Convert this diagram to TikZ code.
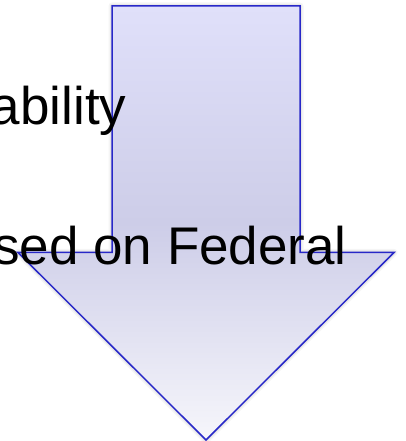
\documentclass[tikz,border=0pt]{standalone}
\usepackage{fontspec}
\setmainfont{Liberation Sans}
\definecolor{arrowline}{RGB}{40,40,200}
\definecolor{gtop}{RGB}{224,224,250}
\definecolor{gmid}{RGB}{205,205,232}
\definecolor{gbot}{RGB}{246,246,251}
\begin{document}
\begin{tikzpicture}[x=1pt,y=1pt,
  bigarrow/.style={draw=arrowline, line width=1.5pt, line join=miter,
    top color=gtop, bottom color=gbot, middle color=gmid},
  glow/.style={draw=black, line join=round},
  label/.style={font=\fontsize{53}{62}\selectfont, inner sep=0pt, anchor=base east, text=black}]
\useasboundingbox (0,0) rectangle (405,441);
\clip (0,0) rectangle (405,441);
\coordinate (a1) at (112,435);
\coordinate (a2) at (300,435);
\coordinate (a3) at (300,188.5);
\coordinate (a4) at (394,188.5);
\coordinate (tip) at (206,1);
\coordinate (a6) at (18,188.5);
\coordinate (a7) at (112,188.5);
\draw[glow, line width=7pt, opacity=0.04] (a1) -- (a2) -- (a3) -- (a4) -- (tip) -- (a6) -- (a7) -- cycle;
\draw[glow, line width=4pt, opacity=0.06] (a1) -- (a2) -- (a3) -- (a4) -- (tip) -- (a6) -- (a7) -- cycle;
\path[bigarrow] (a1) -- (a2) -- (a3) -- (a4) -- (tip) -- (a6) -- (a7) -- cycle;
\node[label] (t1) at (126.5,316) {ability};
\node[label] (t2) at (347,176) {sed on Federal};
\end{tikzpicture}
\end{document}
